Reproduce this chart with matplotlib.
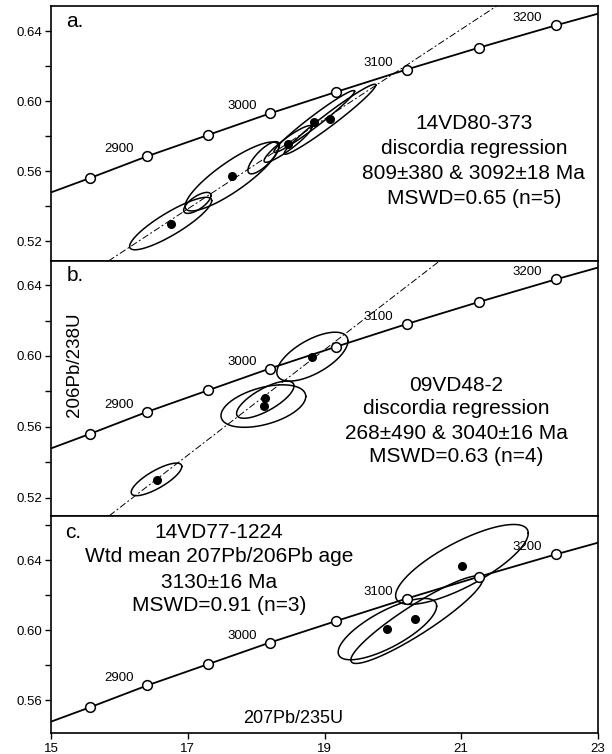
import numpy as np
import matplotlib
matplotlib.use("Agg")
import matplotlib.pyplot as plt
from matplotlib.ticker import MultipleLocator, FormatStrFormatter

plt.rcParams['font.family'] = ['Liberation Sans', 'DejaVu Sans']

# ---------------- data ----------------
# Concordia reference points (open circles every 50 Ma, 2850-3200 Ma)
age_x = [15.57, 16.41, 17.29, 18.20, 19.17, 20.20, 21.26, 22.38]
age_y = [0.5560, 0.5685, 0.5805, 0.5929, 0.6052, 0.6180, 0.6305, 0.6432]
age_labels = ['', '2900', '', '3000', '', '3100', '', '3200']
# concordia ends at plot edges
conc_x = [15.0] + age_x + [23.0]
conc_y = [0.5478] + age_y + [0.6499]

# Panel a: 14VD80-373
a_dot_x = [16.75, 17.646, 18.466, 18.85, 19.08]
a_dot_y = [0.5300, 0.5569, 0.5755, 0.5883, 0.5896]
a_ell_x = [16.75, 17.14, 17.646, 18.11, 18.466, 18.85, 19.08]
a_ell_y = [0.5300, 0.5418, 0.5569, 0.5676, 0.5755, 0.5883, 0.5896]
a_ell_sx = [0.60, 0.20, 0.685, 0.23, 0.35, 0.59, 0.67]
a_ell_sy = [0.0150, 0.0060, 0.0197, 0.0092, 0.0105, 0.0177, 0.0200]
a_ell_rho = [0.87, 0.70, 0.86, 0.78, 0.92, 0.975, 0.975]
a_line = [(16.0, 0.5127), (21.0, 0.6410)]

# Panel b: 09VD48-2
b_dot_x = [16.543, 18.131, 18.114, 18.817]
b_dot_y = [0.5300, 0.5760, 0.5719, 0.5996]
b_ell_x = [16.543, 18.106, 18.134, 18.823]
b_ell_y = [0.5303, 0.5717, 0.5753, 0.5996]
b_ell_sx = [0.37, 0.62, 0.42, 0.52]
b_ell_sy = [0.0092, 0.0120, 0.0105, 0.0138]
b_ell_rho = [0.79, 0.45, 0.74, 0.64]
b_line = [(15.9, 0.5112), (20.68, 0.6535)]

# Panel c: 14VD77-1224
c_dot_x = [19.92, 20.33, 21.005]
c_dot_y = [0.6005, 0.6062, 0.6367]
c_ell_x = [19.92, 20.35, 21.01]
c_ell_y = [0.6006, 0.6060, 0.6375]
c_ell_sx = [0.72, 0.965, 0.97]
c_ell_sy = [0.0175, 0.0250, 0.0228]
c_ell_rho = [0.75, 0.92, 0.78]

a_text = ['14VD80-373', 'discordia regression', '809±380 & 3092±18 Ma', 'MSWD=0.65 (n=5)']
b_text = ['09VD48-2', 'discordia regression', '268±490 & 3040±16 Ma', 'MSWD=0.63 (n=4)']
c_text = ['14VD77-1224', 'Wtd mean 207Pb/206Pb age', '3130±16 Ma', 'MSWD=0.91 (n=3)']

xticks = [15, 17, 19, 21, 23]

# ---------------- figure ----------------
W, H = 612, 754
fig = plt.figure(figsize=(W / 100, H / 100), dpi=100)

left = 51 / W
width = 547 / W
ax_a = fig.add_axes([left, 1 - 261 / H, width, 255 / H])
ax_b = fig.add_axes([left, 1 - 515.7 / H, width, 254.7 / H])
ax_c = fig.add_axes([left, 1 - 732.7 / H, width, 217 / H])

ylims = {ax_a: (0.5086, 0.6543), ax_b: (0.5098, 0.6536), ax_c: (0.5415, 0.6653)}

t = np.linspace(0, 2 * np.pi, 300)


def draw_ellipses(ax, xs, ys, sxs, sys_, rhos):
    for cx, cy, sx, sy, r in zip(xs, ys, sxs, sys_, rhos):
        ex = cx + sx * np.cos(t)
        ey = cy + sy * (r * np.cos(t) + np.sqrt(1 - r * r) * np.sin(t))
        ax.plot(ex, ey, color='black', lw=1.1, zorder=3)


def base(ax):
    ax.set_xlim(15, 23)
    ax.set_ylim(*ylims[ax])
    ax.plot(conc_x, conc_y, color='black', lw=1.3, zorder=2)
    ax.plot(age_x, age_y, 'o', ms=7, mfc='white', mec='black', mew=1.1, zorder=5)
    for x, y, lab in zip(age_x, age_y, age_labels):
        if lab:
            ax.annotate(lab, (x, y), xytext=(-28, 7), textcoords='offset pixels',
                        ha='center', va='center', fontsize=9.5, zorder=6)
    ax.yaxis.set_major_locator(MultipleLocator(0.04))
    ax.yaxis.set_minor_locator(MultipleLocator(0.02))
    ax.yaxis.set_major_formatter(FormatStrFormatter('%.2f'))
    ax.tick_params(axis='y', which='both', direction='out', length=4, width=1.0,
                   labelsize=9.5, pad=2.5)
    for s in ax.spines.values():
        s.set_linewidth(1.2)


for ax in (ax_a, ax_b, ax_c):
    base(ax)

# panel a
ax_a.axline(a_line[0], a_line[1], color='black', lw=0.7, dashes=(7, 2.5, 2, 2.5), zorder=2)
draw_ellipses(ax_a, a_ell_x, a_ell_y, a_ell_sx, a_ell_sy, a_ell_rho)
ax_a.plot(a_dot_x, a_dot_y, 'o', ms=5.5, color='black', zorder=6)
# panel b
ax_b.axline(b_line[0], b_line[1], color='black', lw=0.7, dashes=(7, 2.5, 2, 2.5), zorder=2)
draw_ellipses(ax_b, b_ell_x, b_ell_y, b_ell_sx, b_ell_sy, b_ell_rho)
ax_b.plot(b_dot_x, b_dot_y, 'o', ms=5.5, color='black', zorder=6)
# panel c
draw_ellipses(ax_c, c_ell_x, c_ell_y, c_ell_sx, c_ell_sy, c_ell_rho)
ax_c.plot(c_dot_x, c_dot_y, 'o', ms=5.5, color='black', zorder=6)

for ax in (ax_a, ax_b):
    ax.set_xticks([])
ax_c.set_xticks(xticks)
ax_c.tick_params(axis='x', direction='out', length=4, width=1.0, labelsize=9.5, pad=3.5)

# texts
fs = 15
for line, yf in zip(a_text, [0.5176, 0.4196, 0.3216, 0.2235]):
    ax_a.text(0.773, yf, line, transform=ax_a.transAxes, ha='center', va='baseline', fontsize=fs)
for line, yf in zip(b_text, [0.4896, 0.3993, 0.3011, 0.2108]):
    ax_b.text(0.741, yf, line, transform=ax_b.transAxes, ha='center', va='baseline', fontsize=fs)
for line, yf in zip(c_text, [0.8959, 0.7853, 0.6682, 0.5608]):
    ax_c.text(0.307, yf, line, transform=ax_c.transAxes, ha='center', va='baseline', fontsize=fs)

ax_a.text(0.028, 0.919, 'a.', transform=ax_a.transAxes, ha='left', va='baseline', fontsize=fs)
ax_b.text(0.028, 0.9215, 'b.', transform=ax_b.transAxes, ha='left', va='baseline', fontsize=fs)
ax_c.text(0.025, 0.8959, 'c.', transform=ax_c.transAxes, ha='left', va='baseline', fontsize=fs)

ax_b.text(0.043, 0.5917, '206Pb/238U', transform=ax_b.transAxes, rotation=90,
          ha='center', va='center', fontsize=13.5)
ax_c.text(0.351, 0.0447, '207Pb/235U', transform=ax_c.transAxes, ha='left',
          va='baseline', fontsize=13)

fig.savefig('out.png', dpi=100)
